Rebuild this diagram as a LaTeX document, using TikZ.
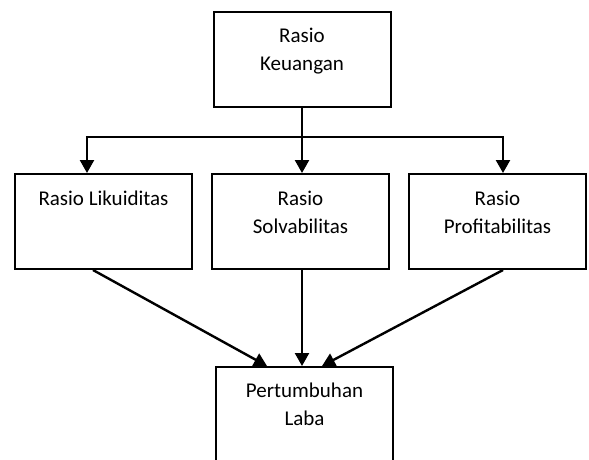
\documentclass[tikz,border=0pt]{standalone}
\usepackage{fontspec}
\setmainfont{Carlito}
\usetikzlibrary{arrows.meta}

\tikzset{
  kotak/.style={draw, rectangle, line width=2pt, minimum width=177pt, minimum height=95pt, inner sep=0pt},
  teks/.style={align=center, anchor=base, inner sep=0pt, font=\fontsize{21}{28}\selectfont},
  garis/.style={line width=2.4pt},
  panah/.style={line width=2.4pt, -{Triangle[width=14pt,length=13pt]}}
}

\begin{document}
\begin{tikzpicture}[x=1pt,y=-1pt]

      \useasboundingbox (0,0) rectangle (589,459);
      \clip (0,0) rectangle (589,459);

      \begin{scope}[every node/.style={kotak}]
        \node (keu)  at (302,59)      {};
        \node (lik)  at (103.5,221.5) {};
        \node (sol)  at (300.5,221.5) {};
        \node (pro)  at (497.5,221.5) {};
        \node[minimum height=110pt] (laba) at (304.5,422) {};
      \end{scope}

      % base anchor sits on the last line
      \begin{scope}[every node/.style={teks}]
        \node (tkeu)  at ([yshift=-60pt]keu.north)  {Rasio\\Keuangan};
        \node (tlik)  at ([yshift=-32pt]lik.north)  {Rasio Likuiditas};
        \node (tsol)  at ([yshift=-60pt]sol.north)  {Rasio\\Solvabilitas};
        \node (tpro)  at ([yshift=-60pt]pro.north)  {Rasio\\Profitabilitas};
        \node (tlaba) at ([yshift=-59pt]laba.north) {Pertumbuhan\\Laba};
      \end{scope}

      \coordinate (kiri)  at (87,137);
      \coordinate (kanan) at (503,137);

      \draw[panah] (keu.south) -- (keu.south |- sol.north);
      \draw[garis] ([xshift=-1.2pt]kiri) -- ([xshift=1.2pt]kanan);
      \draw[panah] (kiri) -- (kiri |- lik.north);
      \draw[panah] (kanan) -- (kanan |- pro.north);

      \draw[panah] ([xshift=-10.5pt]lik.south) -- ([xshift=-37.5pt]laba.north);
      \draw[panah] (sol.south -| keu.south) -- (laba.north -| keu.south);
      \draw[panah] ([xshift=5.5pt]pro.south) -- ([xshift=17.5pt]laba.north);

    \end{tikzpicture}
\end{document}
